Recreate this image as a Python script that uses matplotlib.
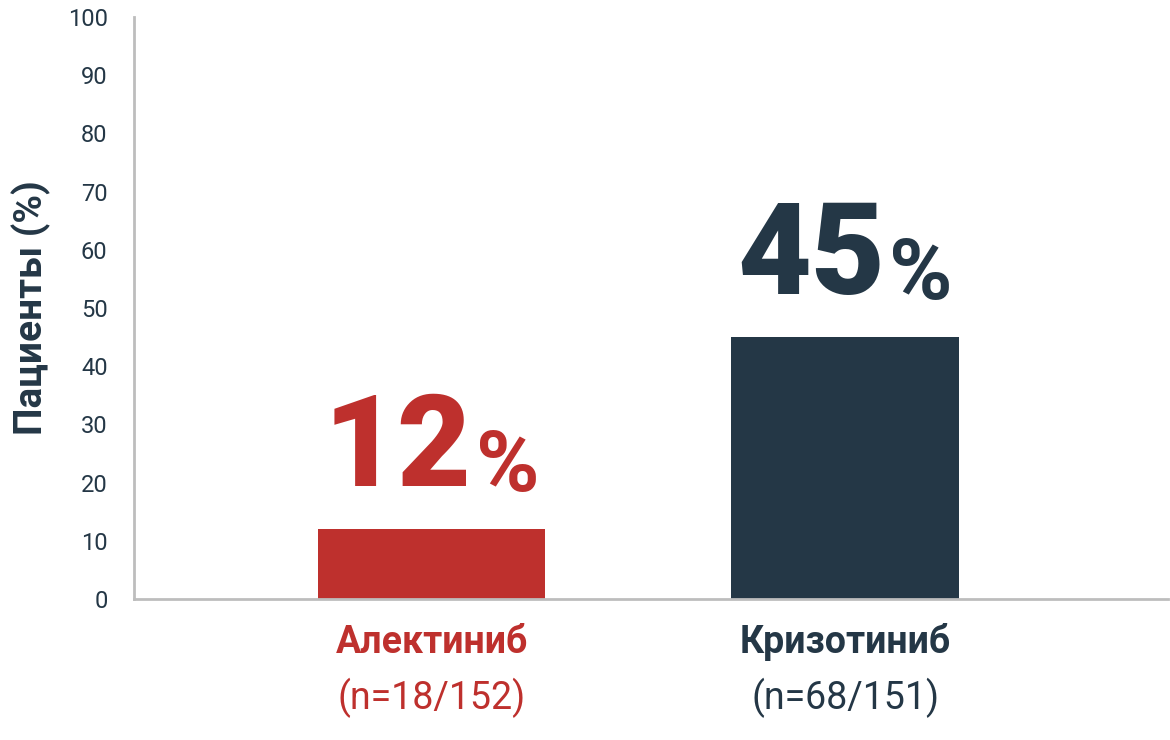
import matplotlib
matplotlib.use("Agg")
import matplotlib.pyplot as plt
import numpy as np

# данные
drugs = ["Алектиниб", "Кризотиниб"]
counts = ["(n=18/152)", "(n=68/151)"]
values = [12, 45]
colors = ["#BE302D", "#243746"]
yticks = list(range(0, 101, 10))

plt.rcParams['font.family'] = ['Roboto', 'DejaVu Sans']

fig = plt.figure(figsize=(11.7, 7.4), dpi=100)
ax = fig.add_axes([0.1145, 0.1905, 0.8835, 0.7865])

x = np.arange(len(values))
ax.bar(x, values, width=0.55, color=colors, zorder=2)

ax.set_xlim(-0.72, 1.78)
ax.set_ylim(0, 100)
ax.set_yticks(yticks)
ax.set_yticklabels([str(t) for t in yticks], fontsize=17, color="#243746")
ax.tick_params(axis="y", length=0, pad=19)
ax.set_xticks([])

for s in ["top", "right"]:
    ax.spines[s].set_visible(False)
for s in ["left", "bottom"]:
    ax.spines[s].set_color("#BDBDBD")
    ax.spines[s].set_linewidth(2)

ax.set_ylabel("Пациенты (%)", fontsize=28, fontweight="bold", color="#243746")
ax.yaxis.set_label_coords(-0.080, 0.5)

# подписи категорий
for i in range(len(drugs)):
    ax.text(x[i], -0.074, drugs[i], transform=ax.get_xaxis_transform(),
            ha="center", va="center", fontsize=27, fontweight="bold", color=colors[i])
    ax.text(x[i], -0.170, counts[i], transform=ax.get_xaxis_transform(),
            ha="center", va="center", fontsize=27, color=colors[i])

# большие значения над столбцами
big = []
for i in range(len(values)):
    t1 = ax.annotate(str(values[i]), xy=(x[i], values[i]), xytext=(0, 31),
                     textcoords="offset points", ha="left", va="baseline",
                     fontsize=92, fontweight="black", color=colors[i])
    t2 = ax.annotate("%", xy=(1, 0), xycoords=t1, xytext=(3, 3),
                     textcoords="offset points", ha="left", va="bottom",
                     fontsize=62, fontweight="bold", color=colors[i])
    big.append((t1, t2))

fig.canvas.draw()
r = fig.canvas.get_renderer()
for t1, t2 in big:
    w = t1.get_window_extent(r).width + 3 * 100 / 72 + t2.get_window_extent(r).width
    t1.set_position((-w / 2 * 72 / 100, 31))

fig.savefig("out.png", dpi=100)
